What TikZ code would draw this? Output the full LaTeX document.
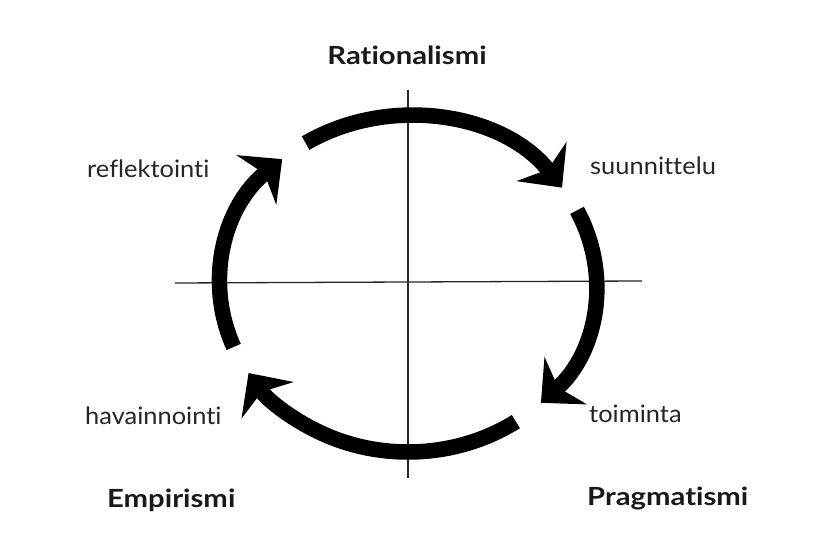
\documentclass[tikz,border=0pt]{standalone}
\usepackage{fontspec}
\setmainfont{Lato}[Ligatures=NoCommon]
\newfontfamily\lblfont{Lato}[Ligatures=NoCommon, FakeStretch=1.06]
\newfontfamily\bigfont{Lato Bold}[Ligatures=NoCommon, FakeStretch=1.17]
\usetikzlibrary{arrows.meta,calc}
\tikzset{
  cyclearc/.style={line width=15.5pt, line cap=butt, -{Stealth[length=33pt,width=63pt,inset=10pt]}},
  axis/.style={line width=1.3pt, color=black!85},
  lbl/.style={font=\lblfont\fontsize{24}{27}\selectfont, text=black!85, inner sep=0pt},
  bigl/.style={font=\bigfont\fontsize{25}{28}\selectfont, text=black!90, inner sep=0pt}
}
\begin{document}
\begin{tikzpicture}[x=1pt,y=1pt]
\useasboundingbox (0,0) rectangle (819,557);
\fill[white] (0,0) rectangle (819,557);
\coordinate (C) at (408,273);
% axes
\coordinate (vt) at (408,467);
\coordinate (vb) at (408,79);
\coordinate (hl) at (175,274);
\coordinate (hr) at (642,276);
\draw[axis] (vt) -- (vb);
\draw[axis] (hl) -- (hr);
% arc start points
\coordinate (s1) at ($(C)+(123:188 and 168)$);
\coordinate (s2) at ($(C)+(26:188 and 168)$);
\coordinate (s3) at ($(C)+(-55:188 and 168)$);
\coordinate (s4) at ($(C)+(-158:188 and 168)$);
\draw[cyclearc] (s1) arc[start angle=123, end angle=35, x radius=188, y radius=168];
\draw[cyclearc] (s2) arc[start angle=26, end angle=-45, x radius=188, y radius=168];
\draw[cyclearc] (s3) arc[start angle=-55, end angle=-148, x radius=188, y radius=168];
\draw[cyclearc] (s4) arc[start angle=-158, end angle=-228, x radius=188, y radius=168];
% labels
\node[bigl, anchor=base] (rat) at (407,492) {Rationalismi};
\node[bigl, anchor=base west] (emp) at (107,50) {Empirismi};
\node[bigl, anchor=base west] (pra) at (587,52) {Pragmatismi};
\node[lbl, anchor=base west] (ref) at (87,379) {reflektointi};
\node[lbl, anchor=base west] (suu) at (590,382) {suunnittelu};
\node[lbl, anchor=base west] (hav) at (85,132) {havainnointi};
\node[lbl, anchor=base west] (toi) at (589,134) {toiminta};
\end{tikzpicture}
\end{document}
